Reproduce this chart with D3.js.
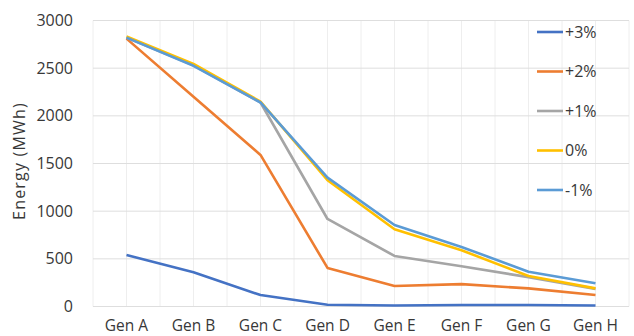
<!DOCTYPE html>
<html>
<head>
<meta charset="utf-8">
<script src="https://cdn.jsdelivr.net/npm/d3@7"></script>
<style>
  html, body { margin: 0; padding: 0; background: #fff; }
  svg { display: block; font-family: "Open Sans", sans-serif; }
</style>
</head>
<body>
<svg id="chart" width="634" height="336"></svg>
<script>
// Generators on the category axis
const categories = ["Gen A", "Gen B", "Gen C", "Gen D", "Gen E", "Gen F", "Gen G", "Gen H"];

// Energy per generator (MWh) for each scenario
const seriesNames = ["+3%", "+2%", "+1%", "0%", "-1%"];
const plus3  = [540, 360, 120, 18, 10, 15, 15, 10];
const plus2  = [2810, 2200, 1590, 405, 215, 235, 190, 120];
const plus1  = [2820, 2530, 2140, 918, 530, 422, 308, 185];
const zero   = [2832, 2545, 2150, 1325, 810, 590, 320, 190];
const minus1 = [2820, 2525, 2140, 1352, 855, 625, 365, 243];
const seriesValues = [plus3, plus2, plus1, zero, minus1];
const seriesColors = ["#4472C4", "#ED7D31", "#A5A5A5", "#FFC000", "#5B9BD5"];

const yTicks = [0, 500, 1000, 1500, 2000, 2500, 3000];

const svg = d3.select("#chart");
const plotLeft = 93, plotRight = 629, plotTop = 20.5, plotBottom = 306.5;
const textColor = "#383838";

const x = d3.scaleBand().domain(categories).range([plotLeft, plotRight]).paddingInner(0).paddingOuter(0);
const xc = d => x(d) + x.bandwidth() / 2;
const y = d3.scaleLinear().domain([0, 3000]).range([plotBottom, plotTop]);

// vertical gridlines at band edges and centres
const vLines = [];
categories.forEach(c => { vLines.push(x(c)); vLines.push(xc(c)); });
vLines.push(plotRight);
svg.append("g").selectAll("line").data(vLines).join("line")
  .attr("x1", d => d).attr("x2", d => d)
  .attr("y1", plotTop).attr("y2", plotBottom)
  .attr("stroke", "#eeeeee").attr("stroke-width", 1);

// horizontal gridlines
svg.append("g").selectAll("line").data(yTicks).join("line")
  .attr("x1", plotLeft).attr("x2", plotRight)
  .attr("y1", d => y(d)).attr("y2", d => y(d))
  .attr("stroke", "#dedede").attr("stroke-width", 1);

// y axis labels
const yAxis = d3.axisLeft(y).tickValues(yTicks).tickFormat(d3.format("d")).tickSize(0).tickPadding(20);
const gy = svg.append("g").attr("transform", `translate(${plotLeft},0)`).call(yAxis);
gy.select(".domain").remove();
gy.selectAll("text").attr("font-size", 16).attr("fill", textColor)
  .attr("font-family", "Open Sans, sans-serif");

// x axis labels, kept just inside the bottom edge
const xAxis = d3.axisBottom(x).tickSize(0).tickPadding(13);
const gx = svg.append("g").attr("transform", `translate(0,${plotBottom})`).call(xAxis);
gx.select(".domain").remove();
gx.selectAll("text").attr("font-size", 15.5).attr("fill", textColor)
  .attr("font-family", "Open Sans, sans-serif");

// y axis title
svg.append("text")
  .attr("transform", `translate(25,161) rotate(-90)`)
  .attr("text-anchor", "middle")
  .attr("font-size", 16).attr("letter-spacing", 1.2).attr("fill", textColor)
  .text("Energy (MWh)");

// series lines
const line = d3.line().x((d, i) => xc(categories[i])).y(d => y(d));
svg.append("g").selectAll("path").data(seriesValues).join("path")
  .attr("d", d => line(d))
  .attr("fill", "none")
  .attr("stroke", (d, i) => seriesColors[i])
  .attr("stroke-width", 2.6)
  .attr("stroke-linejoin", "round");

// legend
const legendY = d3.scalePoint().domain(seriesNames).range([32, 190]);
const lg = svg.append("g").selectAll("g").data(seriesNames).join("g")
  .attr("transform", d => `translate(537,${legendY(d)})`);
lg.append("line").attr("x1", 0).attr("x2", 26).attr("y1", 0).attr("y2", 0)
  .attr("stroke", (d, i) => seriesColors[i]).attr("stroke-width", 2.6);
lg.append("text").attr("x", 28).attr("dy", "0.35em")
  .attr("font-size", 16).attr("fill", textColor)
  .text(d => d);
</script>
</body>
</html>
